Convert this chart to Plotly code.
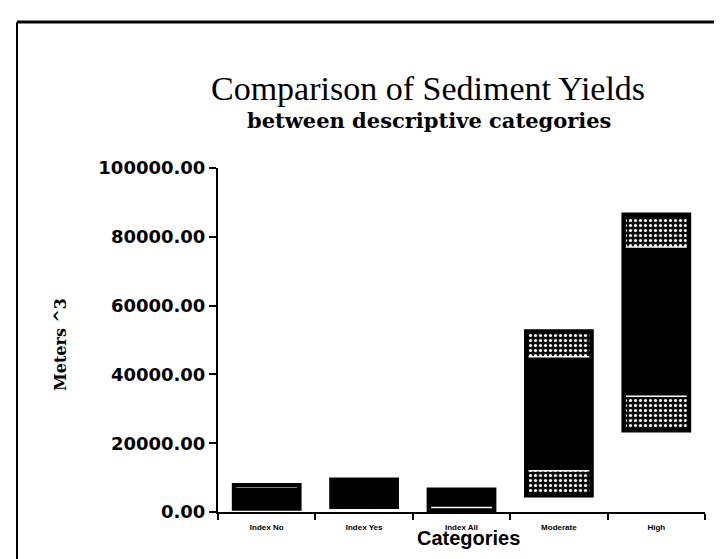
import plotly.graph_objects as go

# Data (Meters^3)
categories = ["Index No", "Index Yes", "Index All", "Moderate", "High"]
range_min = [1000, 1500, 300, 4900, 23800]     # bottom of bar
range_low = [1300, 1900, 1500, 12200, 33900]   # top of lower band
range_high = [7000, 8700, 5800, 44900, 76800]  # top of dark middle
range_max = [7800, 9400, 6500, 52500, 86400]   # top of bar

y_ticks = [0, 20000, 40000, 60000, 80000, 100000]

lower_len = [b - a for a, b in zip(range_min, range_low)]
mid_len = [b - a for a, b in zip(range_low, range_high)]
upper_len = [b - a for a, b in zip(range_high, range_max)]
full_len = [b - a for a, b in zip(range_min, range_max)]

speckle = dict(shape=".", fgcolor="white", bgcolor="#0c0c0c", size=5,
               solidity=0.3, fillmode="replace")
bar_w = 0.67

fig = go.Figure()
for base, length in ((range_min, lower_len), (range_high, upper_len)):
    fig.add_trace(go.Bar(x=categories, y=length, base=base, width=bar_w,
                         marker=dict(color="#0c0c0c", pattern=speckle,
                                     line=dict(color="white", width=3)),
                         showlegend=False, hoverinfo="skip"))
fig.add_trace(go.Bar(x=categories, y=mid_len, base=range_low, width=bar_w,
                     marker=dict(color="black", line=dict(width=0)),
                     showlegend=False))
fig.add_trace(go.Bar(x=categories, y=full_len, base=range_min, width=bar_w,
                     marker=dict(color="rgba(0,0,0,0)",
                                 line=dict(color="black", width=4.5)),
                     showlegend=False, hoverinfo="skip"))

W, H = 722, 559
L, R, T, B = 210, 25, 160, 55
pw, ph = W - L - R, H - T - B


def px(xp):
    return (xp - L) / pw


def py(yp):
    return (H - B - yp) / ph


fig.update_layout(
    width=W, height=H,
    margin=dict(l=L, r=R, t=T, b=B),
    paper_bgcolor="white", plot_bgcolor="white",
    barmode="overlay",
    xaxis=dict(type="category", range=[-0.5, 4.5], tickson="boundaries",
               ticks="outside", ticklen=6, tickwidth=1.5, tickcolor="black",
               showline=True, linecolor="black", linewidth=2,
               showgrid=False, zeroline=False, ticklabelstandoff=6,
               tickfont=dict(family="Liberation Sans", size=8, color="black",
                             weight="bold")),
    yaxis=dict(range=[0, 100000], tickvals=y_ticks, tickformat=".2f",
               ticks="outside", ticklen=7, tickwidth=1.5, tickcolor="black",
               showline=True, linecolor="black", linewidth=2,
               showgrid=False, zeroline=False,
               tickfont=dict(family="DejaVu Sans", size=18, color="black",
                             weight="bold")),
    annotations=[
        dict(text="Comparison of Sediment Yields", xref="paper", yref="paper",
             x=px(420), y=py(80), xanchor="center", yanchor="middle",
             showarrow=False,
             font=dict(family="Liberation Serif", size=34, color="black")),
        dict(text="between descriptive categories", xref="paper", yref="paper",
             x=px(421), y=py(112), xanchor="center", yanchor="middle",
             showarrow=False,
             font=dict(family="DejaVu Serif", size=21, color="black",
                       weight="bold")),
        dict(text="Meters ^3", xref="paper", yref="paper",
             x=px(52), y=py(337), xanchor="center", yanchor="middle",
             textangle=-90, showarrow=False,
             font=dict(family="DejaVu Serif", size=16, color="black",
                       weight="bold")),
        dict(text="Categories", xref="paper", yref="paper",
             x=px(460), y=py(530), xanchor="center", yanchor="middle",
             showarrow=False,
             font=dict(family="Liberation Sans", size=20, color="black",
                       weight="bold")),
    ],
    shapes=[
        dict(type="line", xref="paper", yref="paper",
             x0=px(9), x1=px(722), y0=py(14), y1=py(14),
             line=dict(color="black", width=3)),
        dict(type="line", xref="paper", yref="paper",
             x0=px(9), x1=px(9), y0=py(14), y1=py(559),
             line=dict(color="black", width=2)),
    ],
)

fig.write_html("out.html")
